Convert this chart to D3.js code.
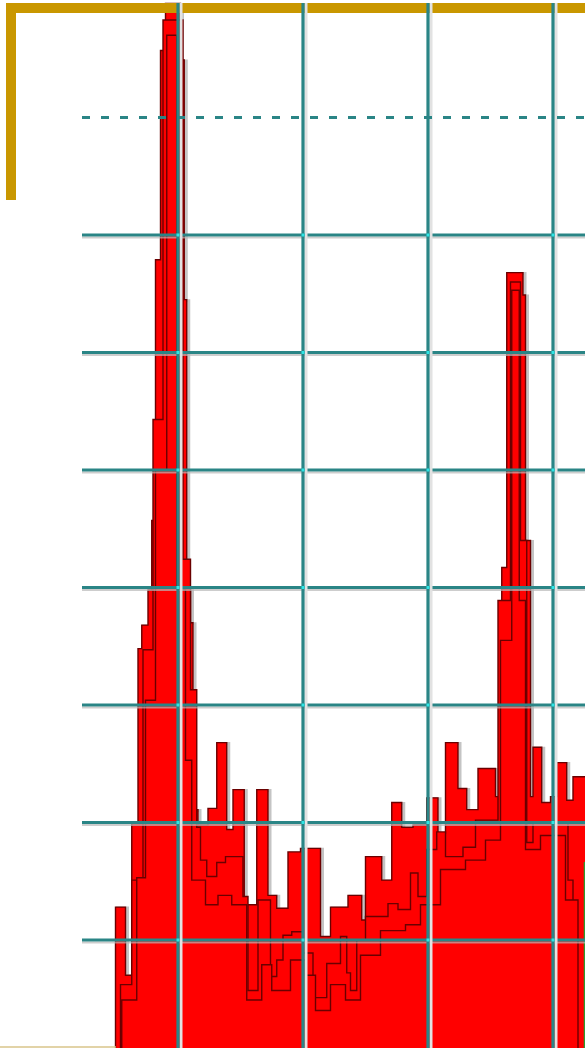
<!DOCTYPE html>
<html><head>
<meta charset="utf-8">
<script src="https://d3js.org/d3.v7.min.js"></script>
<style>
  body { margin: 0; background: #fff; }
  svg { display: block; }
</style>
</head>
<body>
<svg id="plot" width="585" height="1048"></svg>
<script>
// step series: [x, count] breakpoints, each step runs to the next x
const outerX = [50, 58, 63, 68, 71, 76, 79, 82, 86, 90, 102, 105, 107, 110, 112, 116, 124, 131, 139, 144,
                153, 163, 172, 179, 188, 198, 214, 222, 236, 247, 250, 263, 271, 279, 288, 299, 308, 314, 324, 331,
                340, 354, 359, 363, 376, 378, 382, 384, 391, 398, 403, 411, 416, 430];
const outerY = [128, 70, 200, 348, 368, 398, 457, 679, 857, 897, 849, 645, 398, 370, 211, 198, 212, 268, 194, 228,
                130, 228, 138, 127, 175, 178, 103, 128, 138, 117, 171, 151, 217, 196, 198, 221, 191, 268, 229, 211,
                246, 222, 417, 668, 649, 440, 222, 264, 217, 222, 251, 219, 239, 239];

const midX = [54, 63, 72, 80, 88, 104, 110, 115, 118, 123, 131, 138, 152, 156, 164, 174, 179, 184, 191, 200,
              208, 219, 230, 235, 238, 243, 250, 268, 276, 286, 292, 299, 307, 314, 328, 338, 356, 366, 374, 379,
              384, 412, 416];
const midY = [62, 151, 347, 543, 883, 424, 313, 196, 168, 154, 166, 171, 137, 57, 134, 69, 83, 104, 107, 89,
              51, 80, 103, 72, 57, 100, 120, 131, 126, 157, 137, 177, 192, 171, 179, 202, 389, 660, 440, 183,
              200, 151, 0];

const innerX = [55, 67, 74, 82, 91, 99, 106, 111, 122, 132, 143, 155, 167, 175, 190, 202, 210, 222, 234, 246,
                262, 282, 294, 310, 330, 346, 358, 367, 373, 378, 390, 410, 420];
const innerY = [49, 153, 304, 500, 870, 398, 253, 151, 130, 138, 130, 49, 79, 57, 83, 70, 40, 62, 49, 87,
                108, 113, 130, 160, 168, 185, 355, 653, 389, 177, 189, 134, 0];

const gridX = [100, 200, 300, 400];
const gridY = [100, 200, 300, 400, 500, 600, 700];
const dashedY = [800];
const markerX = [425];

const svg = d3.select("svg#plot");
const width = +svg.attr("width");
const height = +svg.attr("height");

const x = d3.scaleLinear().domain([0, 400]).range([53, 553]);
const y = d3.scaleLinear().domain([0, 900]).range([1057.5, 0]);

const teal = "#2a8586";
const gold = "#c99700";

function steps(xs, ys) {
  let pts = xs.map((v, i) => [v, ys[i]]);
  pts.unshift([xs[0], 0]);
  return pts;
}

const area = d3.area()
  .curve(d3.curveStepAfter)
  .x(d => x(d[0]))
  .y0(y(0))
  .y1(d => y(d[1]));

let chart = svg.append("g");

// soft grey fringe to the right of the bars
chart.append("path")
  .attr("d", area(steps(outerX, outerY)))
  .attr("transform", "translate(2,1)")
  .attr("fill", "none")
  .attr("stroke", "#c4c4c4")
  .attr("stroke-width", 3);

[[outerX, outerY], [midX, midY], [innerX, innerY]].forEach(s => {
  chart.append("path")
    .attr("d", area(steps(s[0], s[1])))
    .attr("fill", "#ff0000")
    .attr("stroke", "#6a0000")
    .attr("stroke-width", 1.4)
    .attr("stroke-linejoin", "miter");
});

// green marker at right end
chart.append("line")
  .attr("x1", x(markerX[0]) + 0.5).attr("x2", x(markerX[0]) + 0.5)
  .attr("y1", 862).attr("y2", height)
  .attr("stroke", "#2e9b2e").attr("stroke-width", 2);

// frame (gold)
let frame = svg.append("g");
frame.append("rect").attr("x", 6).attr("y", 3).attr("width", width - 6).attr("height", 10).attr("fill", gold);
frame.append("rect").attr("x", 6).attr("y", 3).attr("width", 10).attr("height", 197).attr("fill", gold);
frame.append("line").attr("x1", 0).attr("x2", 116).attr("y1", 1047).attr("y2", 1047)
  .attr("stroke", "#d8c48a").attr("stroke-width", 1.5);

// grid
let grid = svg.append("g");
grid.selectAll("line.hs").data(gridY).join("line")
  .attr("x1", 82).attr("x2", width)
  .attr("y1", d => y(d) + 2.5).attr("y2", d => y(d) + 2.5)
  .attr("stroke", "#b8b8b8").attr("stroke-width", 2).attr("opacity", 0.7);
grid.selectAll("line.h").data(gridY).join("line")
  .attr("x1", 82).attr("x2", width)
  .attr("y1", d => y(d)).attr("y2", d => y(d))
  .attr("stroke", teal).attr("stroke-width", 3.2);
grid.selectAll("line.vs").data(gridX).join("line")
  .attr("x1", d => x(d) + 3).attr("x2", d => x(d) + 3)
  .attr("y1", 3).attr("y2", height)
  .attr("stroke", "#e2e2e2").attr("stroke-width", 3);
grid.selectAll("line.v").data(gridX).join("line")
  .attr("x1", d => x(d)).attr("x2", d => x(d))
  .attr("y1", 3).attr("y2", height)
  .attr("stroke", teal).attr("stroke-width", 3.2);
grid.selectAll("line.d").data(dashedY).join("line")
  .attr("x1", 82).attr("x2", width)
  .attr("y1", d => y(d)).attr("y2", d => y(d))
  .attr("stroke", teal).attr("stroke-width", 3)
  .attr("stroke-dasharray", "8,11");

// little cyan dots where grid lines cross
let cross = [];
gridX.forEach(gx => gridY.forEach(gy => cross.push([gx, gy])));
grid.selectAll("rect.c").data(cross).join("rect")
  .attr("x", d => x(d[0]) - 1.5).attr("y", d => y(d[1]) - 1.5)
  .attr("width", 3).attr("height", 3)
  .attr("fill", "#2ee6e6");
</script>
</body>
</html>
